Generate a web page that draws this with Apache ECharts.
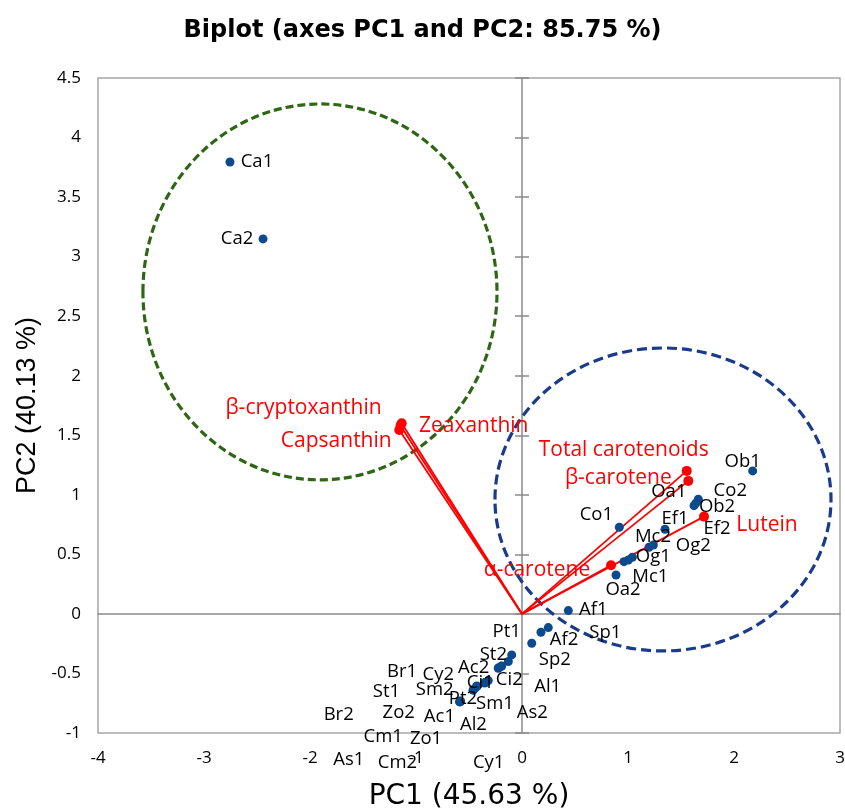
<!DOCTYPE html>
<html><head><meta charset="utf-8">
<script src="https://cdn.jsdelivr.net/npm/echarts@6/dist/echarts.min.js"></script>
<style>html,body{margin:0;padding:0;background:#fff}#chart{width:845px;height:811px}</style>
</head><body><div id="chart"></div>
<script>
// ---- data ----
const sampleNames = ['Ca1','Ca2','Ob1','Co2','Ob2','Oa1','Co1','Ef1','Ef2','Mc2','Og2','Og1','Mc1','Oa2','Af1',
  'Sp1','Af2','Sp2','Pt1','St2','Ac2','Ci2','Ci1','Sm1','Sm2','Cy2','Pt2','Al1','As2','Al2','Ac1','Br1','St1','Zo2','Br2','Cm1','Zo1','As1','Cm2','Cy1'];
const samplePC1 = [-2.755,-2.443,2.176,1.663,1.623,1.64,0.918,1.349,0.962,1.198,1.239,1.041,1.003,0.887,0.437,
  0.248,0.179,0.092,-0.097,-0.129,-0.192,-0.224,-0.318,-0.349,-0.427,-0.459,-0.585,-0.220,-0.195,-0.345,-0.430,-0.462,-0.580,-0.455,-0.588,-0.583,-0.424,-0.586,-0.581,-0.352];
const samplePC2 = [3.795,3.149,1.201,0.963,0.909,0.93,0.728,0.711,0.439,0.560,0.579,0.476,0.453,0.327,0.028,
  -0.115,-0.154,-0.246,-0.344,-0.400,-0.437,-0.456,-0.560,-0.577,-0.610,-0.638,-0.736,-0.452,-0.440,-0.575,-0.612,-0.640,-0.732,-0.635,-0.738,-0.734,-0.606,-0.739,-0.735,-0.580];
const variableNames = ['β-cryptoxanthin','Capsanthin','Zeaxanthin','Total carotenoids','β-carotene','Lutein','α-carotene'];
const variablePC1 = [-1.146,-1.158,-1.135,1.554,1.569,1.717,0.840];
const variablePC2 = [1.580,1.545,1.601,1.201,1.117,0.817,0.409];
// group ellipses: centre and radii in PC units
const ellipseCX = [-1.906, 1.330];
const ellipseCY = [2.704, 0.961];
const ellipseRX = [1.670, 1.585];
const ellipseRY = [1.578, 1.272];
const xTickRange = [-4, 3, 1];
const yTickRange = [-1, 4.5, 0.5];

// ---- styling (label offsets in px) ----
const sampleLabelOffset = {
  Ca1:[27,0],Ca2:[-26,0],Ob1:[-10,-9],Co2:[32,-8],Ob2:[23,1],Oa1:[-27,-11],Co1:[-23,-12],Ef1:[10,-11],Ef2:[93,-33],
  Mc2:[4,-10],Og2:[40,1],Og1:[21,0],Mc1:[22,17],Oa2:[7,15],Af1:[25,-1],Sp1:[57,5],Af2:[23,7],Sp2:[23,17],
  Pt1:[-5,-23],St2:[-15,-7],Ac2:[-28,2],Ci2:[11,12],Ci1:[-8,2],Sm1:[10,21],Sm2:[-42,3],Cy2:[-35,-15],Pt2:[3,-3],
  Al1:[49,19],As2:[31,46],Al2:[-12,42],Ac1:[-37,30],Br1:[-71,-18],St1:[-74,-9],Zo2:[-75,23],Br2:[-121,13],
  Cm1:[-77,35],Zo1:[-51,53],As1:[-111,58],Cm2:[-63,61],Cy1:[4,80]
};
const variableLabelOffset = [[-97,-18],[-63,11],[72,3],[-63,-21],[-70,-3],[63,8],[-74,5]];
const ellipseColors = ['#2E6614','#1A3A8A'];
const ellipseDash = [[8,4],[10,5]];

const chart = echarts.init(document.getElementById('chart'), null, {renderer:'canvas'});
const axisGray = '#8A8A8A';
const redC = '#FF0000';

const scatterData = sampleNames.map((n,i)=>({
  name:n, value:[samplePC1[i], samplePC2[i]],
  label:{offset: sampleLabelOffset[n] || [20,0]}
}));

const vectorSeries = variableNames.map((n,i)=>({
  type:'line', name:n, xAxisIndex:0, yAxisIndex:0, z:4,
  lineStyle:{color:redC, width:1.8, opacity:1},
  itemStyle:{color:redC, opacity:1},
  symbol:'circle', symbolSize:10, showSymbol:true, silent:true, animation:false,
  data:[
    {value:[0,0], symbol:'none', label:{show:false}},
    {value:[variablePC1[i], variablePC2[i]], label:{show:true, position:'inside', offset:variableLabelOffset[i],
      formatter:n, color:redC, opacity:1, fontFamily:'Open Sans', fontSize:21}}
  ]
}));

const ellipseData = ellipseCX.map((c,i)=>[c, ellipseCY[i], ellipseRX[i], ellipseRY[i]]);

const tickFont = {color:'#000', fontFamily:'Open Sans', fontSize:17};

chart.setOption({
  animation:false,
  backgroundColor:'#ffffff',
  title:{text:'Biplot (axes PC1 and PC2: 85.75 %)', left:'center', top:14,
    textStyle:{fontFamily:'DejaVu Sans', fontWeight:'bold', fontSize:24, color:'#000'}},
  grid:{left:98, right:5, top:78, bottom:78, show:true, borderColor:'#A6A6A6', borderWidth:1.5,
    containLabel:false, outerBoundsMode:'none'},
  xAxis:[
    {type:'value', min:xTickRange[0], max:xTickRange[1], interval:xTickRange[2],
     axisLine:{show:false, onZero:false}, axisTick:{show:false}, splitLine:{show:false},
     axisLabel:{...tickFont, margin:17},
     name:'PC1 (45.63 %)', nameLocation:'middle', nameGap:50,
     nameTextStyle:{fontFamily:'DejaVu Sans', fontSize:28, color:'#000'}},
    {type:'value', min:xTickRange[0], max:xTickRange[1], interval:xTickRange[2],
     axisLine:{show:true, onZero:true, onZeroAxisIndex:0, lineStyle:{color:axisGray, width:1.5}},
     axisTick:{show:false}, axisLabel:{show:false}, splitLine:{show:false}}
  ],
  yAxis:[
    {type:'value', min:yTickRange[0], max:yTickRange[1], interval:yTickRange[2],
     axisLine:{show:false, onZero:false}, axisTick:{show:false}, splitLine:{show:false},
     axisLabel:{...tickFont, margin:17},
     name:'PC2 (40.13 %)', nameLocation:'middle', nameGap:50, nameRotate:90,
     nameTextStyle:{fontFamily:'Liberation Sans', fontSize:27, color:'#000'}},
    {type:'value', min:yTickRange[0], max:yTickRange[1], interval:yTickRange[2],
     axisLine:{show:true, onZero:true, onZeroAxisIndex:0, lineStyle:{color:axisGray, width:1.5}},
     axisTick:{show:true, inside:false, length:7, lineStyle:{color:axisGray, width:1.5}},
     axisLabel:{show:false}, splitLine:{show:false}},
    {type:'value', min:yTickRange[0], max:yTickRange[1], interval:yTickRange[2],
     axisLine:{show:false, onZero:true, onZeroAxisIndex:0},
     axisTick:{show:true, inside:true, length:7, lineStyle:{color:axisGray, width:1.5}},
     axisLabel:{show:false}, splitLine:{show:false}}
  ],
  series:[
    {type:'custom', xAxisIndex:0, yAxisIndex:0, z:1, silent:true, data:ellipseData,
     renderItem:function(params, api){
       const c = api.coord([api.value(0), api.value(1)]);
       const s = api.size([api.value(2), api.value(3)]);
       return {type:'ellipse', shape:{cx:c[0], cy:c[1], rx:s[0], ry:s[1]},
         style:{fill:'none', stroke:ellipseColors[params.dataIndex], lineWidth:3.2, lineDash:ellipseDash[params.dataIndex]}};
     }},
    ...vectorSeries,
    {type:'scatter', xAxisIndex:0, yAxisIndex:0, z:5, symbol:'circle', symbolSize:9,
     itemStyle:{color:'#0B4A8C', opacity:1}, silent:true,
     label:{show:true, position:'inside', formatter:'{b}', color:'#000', opacity:1, fontFamily:'Open Sans', fontSize:18.5},
     data:scatterData}
  ]
});
</script></body></html>
